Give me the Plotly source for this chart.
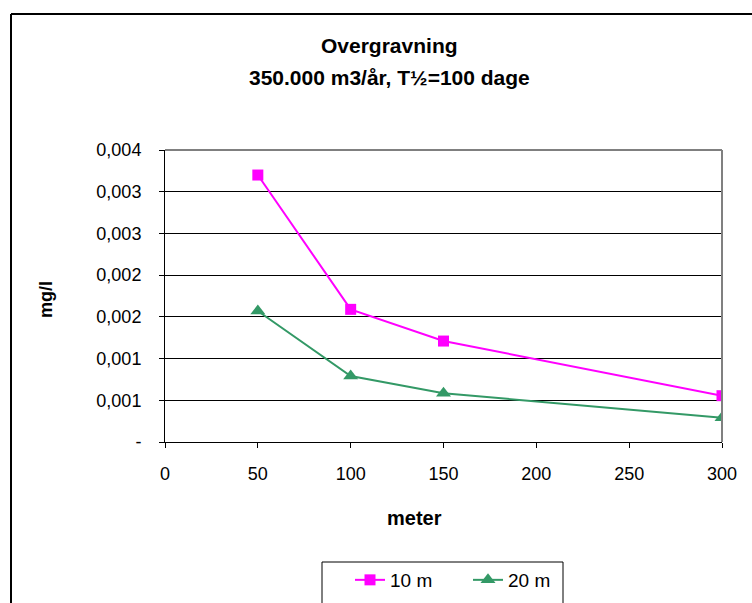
import plotly.graph_objects as go

# ---- data ----
distance_m = [50, 100, 150, 300]
series_names = ["10 m", "20 m"]
conc_10m = [0.0032, 0.00159, 0.00121, 0.000555]
conc_20m = [0.00157, 0.00079, 0.000584, 0.000291]
y_tickvals = [0, 0.0005, 0.001, 0.0015, 0.002, 0.0025, 0.003, 0.0035]
y_ticktext = ["-", "0,001", "0,001", "0,002", "0,002", "0,003", "0,003", "0,004"]
x_tickvals = [0, 50, 100, 150, 200, 250, 300]
title_lines = ["Overgravning", "350.000 m3/år, T½=100 dage"]
x_title = "meter"
y_title = "mg/l"

# ---- layout geometry (pixels) ----
W, H = 752, 603
L, R, T, B = 165, 722, 150, 442
pw, ph = R - L, B - T

def px(x):
    return (x - L) / pw

def py(y):
    return (B - y) / ph

FONT = "Liberation Sans, Arial, sans-serif"

fig = go.Figure()
fig.add_trace(go.Scatter(
    x=distance_m, y=conc_10m, name=series_names[0], mode="lines+markers",
    line=dict(color="#FF00FF", width=2),
    marker=dict(symbol="square", size=11, color="#FF00FF"),
))
fig.add_trace(go.Scatter(
    x=distance_m, y=conc_20m, name=series_names[1], mode="lines+markers",
    line=dict(color="#339966", width=2),
    marker=dict(symbol="triangle-up", size=13, color="#339966"),
))

fig.update_layout(
    width=W, height=H,
    margin=dict(l=L, r=W - R, t=T, b=H - B, pad=0, autoexpand=False),
    paper_bgcolor="white", plot_bgcolor="white",
    font=dict(family=FONT, size=18, color="black"),
    showlegend=True,
    legend=dict(
        orientation="h", x=px(350), y=py(561), xanchor="left", yanchor="top",
        bgcolor="rgba(0,0,0,0)", borderwidth=0,
        font=dict(family=FONT, size=19, color="black"),
        entrywidth=73, entrywidthmode="pixels",
    ),
    xaxis=dict(
        range=[0, 300], tickvals=x_tickvals, showgrid=False, zeroline=False,
        showline=True, linecolor="black", linewidth=1,
        ticks="outside", ticklen=5, tickcolor="black",
        tickfont=dict(family=FONT, size=18), ticklabelstandoff=10,
        automargin=False, fixedrange=True,
    ),
    yaxis=dict(
        range=[0, 0.0035], tickvals=y_tickvals, ticktext=y_ticktext,
        showgrid=True, gridcolor="black", gridwidth=1, zeroline=False,
        showline=True, linecolor="black", linewidth=1,
        ticks="outside", ticklen=5, tickcolor="black",
        tickfont=dict(family=FONT, size=18), ticklabelstandoff=14,
        automargin=False, fixedrange=True,
    ),
)

def label(text, x, y, size, angle=0):
    fig.add_annotation(text="<b>%s</b>" % text, xref="paper", yref="paper",
                       x=px(x), y=py(y), xanchor="center", yanchor="middle",
                       showarrow=False, textangle=angle,
                       font=dict(family=FONT, size=size))

label(title_lines[0], 389, 45, 21)
label(title_lines[1], 389, 77, 21)
label(x_title, 414, 518, 20)
label(y_title, 46, 300, 18, angle=-90)

# plot area border: top black, right grey
fig.add_shape(type="line", xref="paper", yref="paper", x0=0, x1=1, y0=1, y1=1,
              line=dict(color="black", width=1))
fig.add_shape(type="line", xref="paper", yref="paper", x0=1, x1=1, y0=0, y1=1,
              line=dict(color="#808080", width=2))
# outer chart frame (extends beyond the visible window)
fig.add_shape(type="line", xref="paper", yref="paper", x0=px(11), x1=px(11),
              y0=py(14), y1=py(700), line=dict(color="black", width=2))
fig.add_shape(type="line", xref="paper", yref="paper", x0=px(11), x1=px(900),
              y0=py(14), y1=py(14), line=dict(color="black", width=2))
# legend frame
fig.add_shape(type="rect", xref="paper", yref="paper", x0=px(322), x1=px(563),
              y0=py(562), y1=py(700), line=dict(color="black", width=1),
              fillcolor="rgba(0,0,0,0)")

fig.write_html("out.html")
